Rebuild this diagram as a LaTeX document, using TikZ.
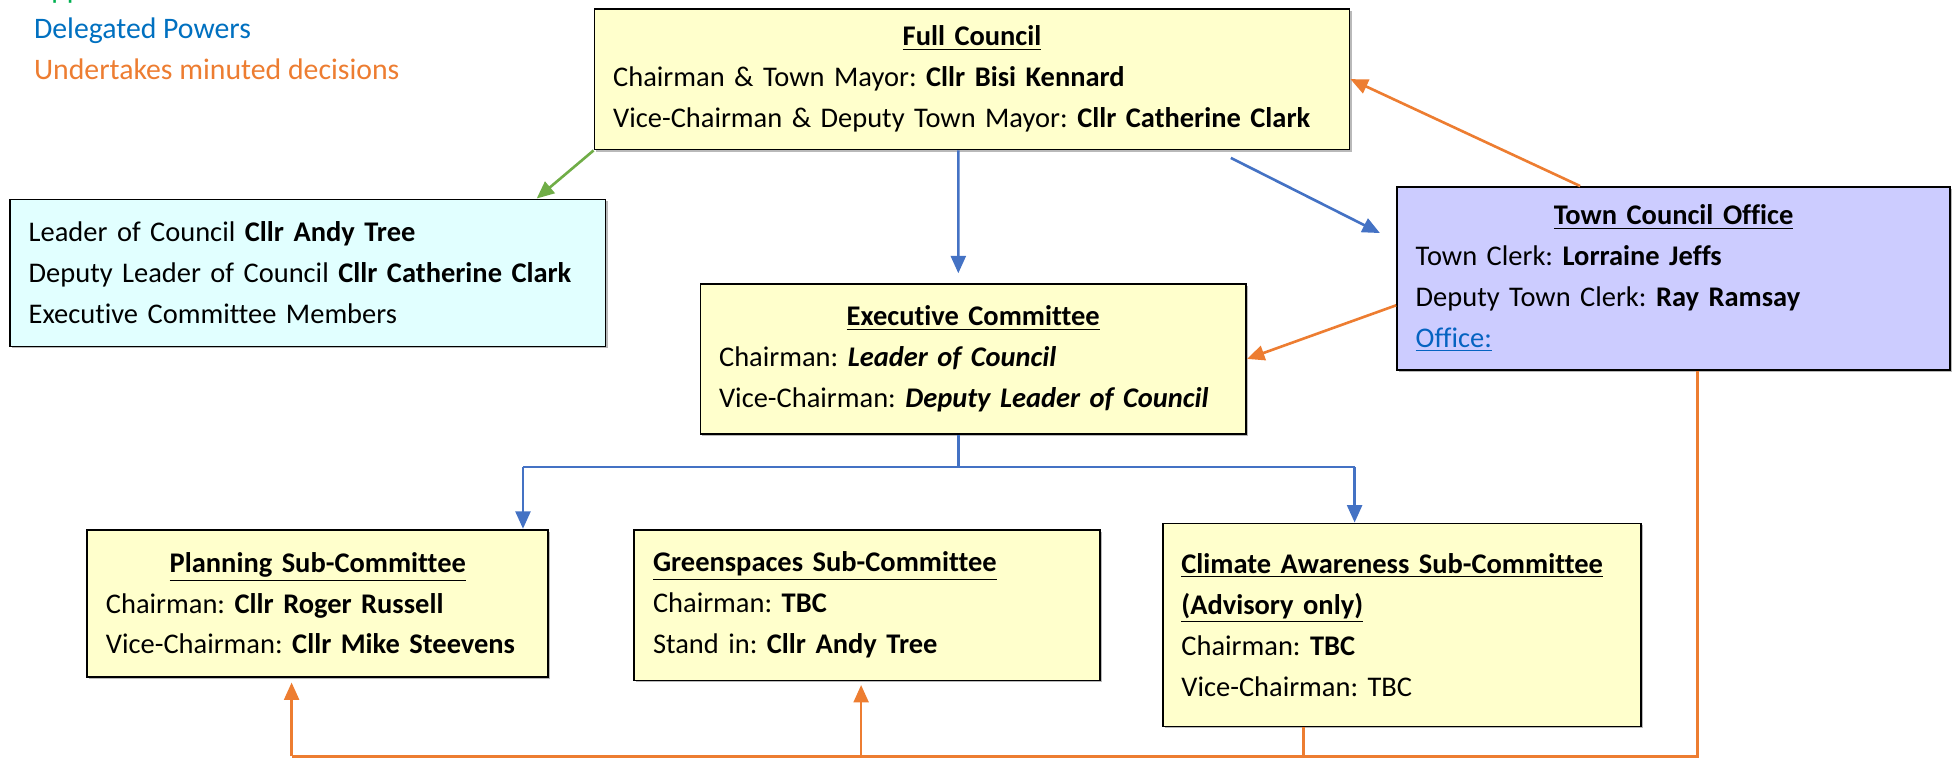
\documentclass[tikz,border=0pt]{standalone}
\usepackage{fontspec}
\setmainfont{Carlito}[Ligatures=NoCommon]
\usetikzlibrary{arrows.meta,shadows}
\frenchspacing
\definecolor{boxyellow}{HTML}{FFFFCC}
\definecolor{boxcyan}{HTML}{E1FFFF}
\definecolor{boxlilac}{HTML}{CCCCFF}
\definecolor{delegblue}{HTML}{4472C4}
\definecolor{minuteorange}{HTML}{ED7D31}
\definecolor{appointgreen}{HTML}{70AD47}
\definecolor{legendgreen}{HTML}{00B050}
\definecolor{legendblue}{HTML}{0070C0}
\definecolor{linkblue}{HTML}{0563C1}
\newcommand{\ctitle}[1]{\hfill\underline{\textbf{#1}}\hfill\null}
\newcommand{\ltitle}[1]{\underline{\textbf{#1}}}
\tikzset{
  orgbox/.style={draw=black, thick, fill=boxyellow, align=left, inner xsep=0.3cm,
    font=\fontsize{13}{18.7}\selectfont,
    drop shadow={shadow xshift=0.9pt, shadow yshift=-0.9pt, fill=black!55}},
  deleg/.style={delegblue, line width=1.2pt},
  minute/.style={minuteorange, line width=1.2pt},
  appoint/.style={appointgreen, line width=1.2pt},
  tip/.style={-{Triangle[length=0.28cm, width=0.24cm]}},
  legend/.style={anchor=base west, inner sep=0pt, font=\fontsize{13.6}{18.7}\selectfont}
}
\begin{document}
\begin{tikzpicture}[x=0.02cm, y=-0.02cm]
\useasboundingbox (0,0) rectangle (1568,613);
% legend
\node[legend, legendgreen] (lgreen) at (27,-1) {Appoints};
\node[legend, legendblue] (lblue) at (27,31) {Delegated Powers};
\node[legend, minuteorange] (lorange) at (27,64) {Undertakes minuted decisions};
% boxes
\node[orgbox, minimum width=12.12cm, minimum height=2.26cm, text width=11.52cm] (full) at (780,63.5)
  {\ctitle{Full Council}\\
   Chairman \& Town Mayor: \textbf{Cllr Bisi Kennard}\\
   Vice-Chairman \& Deputy Town Mayor: \textbf{Cllr Catherine Clark}};
\node[orgbox, fill=boxcyan, minimum width=9.56cm, minimum height=2.36cm, text width=8.96cm] (lead) at (247,219)
  {Leader of Council \textbf{Cllr Andy Tree}\\
   Deputy Leader of Council \textbf{Cllr Catherine Clark}\\
   Executive Committee Members};
\node[orgbox, fill=boxlilac, minimum width=8.88cm, minimum height=2.94cm, text width=8.28cm] (office) at (1343,223.5)
  {\ctitle{Town Council Office}\\
   Town Clerk: \textbf{Lorraine Jeffs}\\
   Deputy Town Clerk: \textbf{Ray Ramsay}\\
   \textcolor{linkblue}{\underline{Office:}}};
\node[orgbox, minimum width=8.76cm, minimum height=2.40cm, text width=8.16cm] (exec) at (781,288)
  {\ctitle{Executive Committee}\\
   Chairman: \textbf{\textit{Leader of Council}}\\
   Vice-Chairman: \textbf{\textit{Deputy Leader of Council}}};
\node[orgbox, minimum width=7.40cm, minimum height=2.36cm, text width=6.80cm] (plan) at (255,484)
  {\ctitle{Planning Sub-Committee}\\
   Chairman: \textbf{Cllr Roger Russell}\\
   Vice-Chairman: \textbf{Cllr Mike Steevens}};
\node[orgbox, minimum width=7.48cm, minimum height=2.42cm, text width=6.88cm] (green) at (696,485.5)
  {\ltitle{Greenspaces Sub-Committee}\\
   Chairman: \textbf{TBC}\\
   Stand in: \textbf{Cllr Andy Tree}};
\node[orgbox, minimum width=7.68cm, minimum height=3.26cm, text width=7.08cm] (climate) at (1125,501.5)
  {\ltitle{Climate Awareness Sub-Committee}\\
   \ltitle{(Advisory only)}\\
   Chairman: \textbf{TBC}\\
   Vice-Chairman: TBC};
% connectors
\draw[appoint, tip] (full.south west) -- ([xshift=-1.12cm]lead.north east);
\draw[deleg, tip] ([xshift=-0.22cm]full.south) -- ([xshift=-0.24cm, yshift=0.16cm]exec.north);
\draw[deleg, tip] ([xshift=-1.92cm, yshift=-0.12cm]full.south east) -- ([xshift=-0.26cm, yshift=0.73cm]office.west);
\draw[minute, tip] ([xshift=-1.5cm]office.north) -- (full.east);
\draw[minute, tip] ([yshift=-0.43cm]office.west) -- (exec.east);
\coordinate (split) at ([xshift=-0.24cm, yshift=-0.52cm]exec.south);
\coordinate (toplan) at ([xshift=-0.42cm]plan.north east);
\coordinate (toclim) at ([xshift=-0.76cm]climate.north);
\draw[deleg] ([xshift=-0.24cm]exec.south) -- (split);
\draw[deleg] (split -| toplan) -- (split -| toclim);
\draw[deleg, tip] (split -| toplan) -- (toplan);
\draw[deleg, tip] (split -| toclim) -- (toclim);
\coordinate (bus) at (0,607);
\coordinate (fromoffice) at ([xshift=0.38cm]office.south);
\coordinate (fromclim) at ([xshift=-1.58cm]climate.south);
\coordinate (upplan) at ([xshift=-0.42cm, yshift=-0.08cm]plan.south);
\coordinate (upgreen) at ([xshift=-0.10cm, yshift=-0.06cm]green.south);
\draw[minute] (fromoffice) -- (fromoffice |- bus) -- (upplan |- bus);
\draw[minute] (fromclim) -- (fromclim |- bus);
\draw[minute, tip] (upplan |- bus) -- (upplan);
\draw[minute, tip] (upgreen |- bus) -- (upgreen);
\end{tikzpicture}
\end{document}
